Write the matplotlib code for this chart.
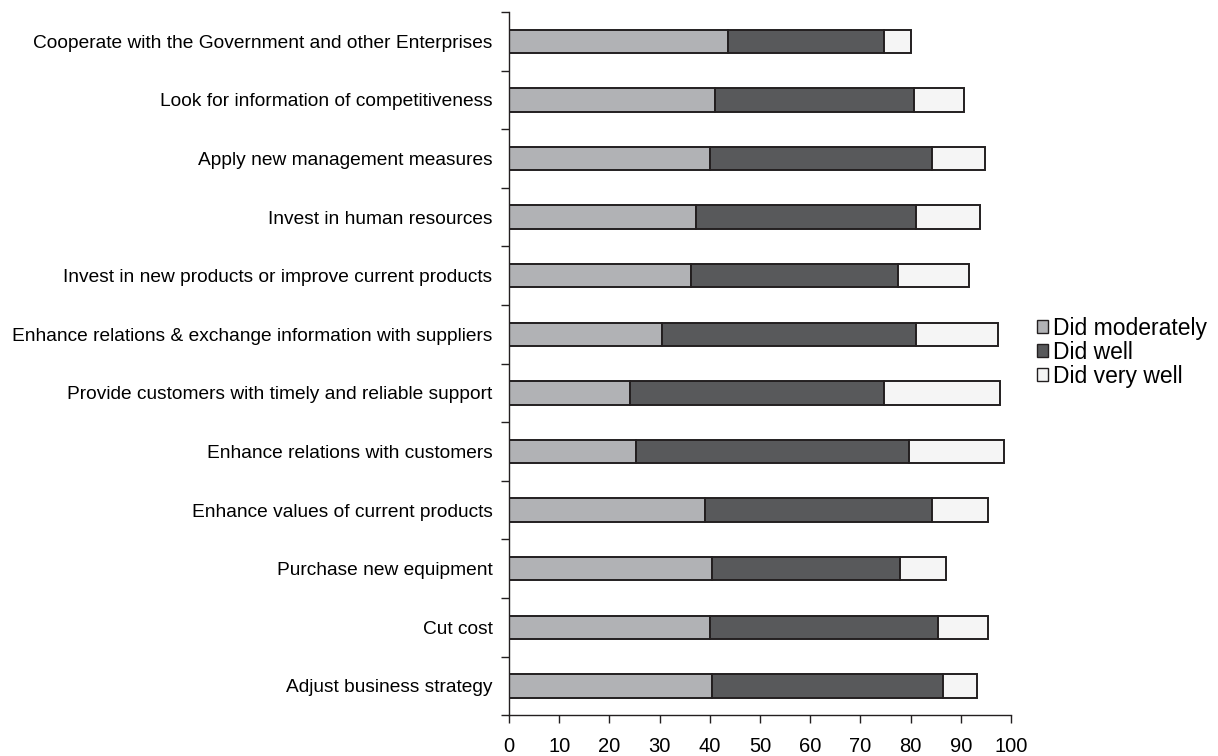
import matplotlib
matplotlib.use("Agg")
import matplotlib.pyplot as plt
import numpy as np
from matplotlib.patches import Patch

plt.rcParams['font.family'] = ['Liberation Sans', 'DejaVu Sans']

# Strategies, listed bottom to top
strategies = [
    "Adjust business strategy",
    "Cut cost",
    "Purchase new equipment",
    "Enhance values of current products",
    "Enhance relations with customers",
    "Provide customers with timely and reliable support",
    "Enhance relations & exchange information with suppliers",
    "Invest in new products or improve current products",
    "Invest in human resources",
    "Apply new management measures",
    "Look for information of competitiveness",
    "Cooperate with the Government and other Enterprises",
]

# Percent of firms per answer
did_moderately = [40.5, 40.0, 40.5, 39.0, 25.3, 24.1, 30.5, 36.3, 37.3, 40.0, 41.0, 43.6]
did_well       = [46.0, 45.5, 37.4, 45.3, 54.3, 50.7, 50.6, 41.1, 43.8, 44.3, 39.6, 31.1]
did_very_well  = [6.8, 10.0, 9.1, 11.2, 19.1, 23.1, 16.4, 14.2, 12.7, 10.5, 10.0, 5.4]

series_names = ["Did moderately", "Did well", "Did very well"]
colors = ["#b1b2b5", "#58595b", "#f5f5f5"]
edge = "#231f20"

fig = plt.figure(figsize=(12.18, 7.56), dpi=100)
ax = fig.add_axes([0.418, 0.054, 0.412, 0.930])

y = np.arange(len(strategies))
left = np.zeros(len(strategies))
for vals, col in zip([did_moderately, did_well, did_very_well], colors):
    ax.barh(y, vals, left=left, height=0.4, color=col, edgecolor=edge, linewidth=1.4)
    left += np.array(vals)

ax.set_xlim(0, 100)
ax.set_ylim(-0.5, len(strategies) - 0.5)
ax.set_xticks(np.arange(0, 101, 10))
ax.set_yticks(y)
ax.set_yticklabels(strategies, fontsize=13.8)
ax.set_yticks(np.arange(-0.5, len(strategies)), minor=True)
ax.tick_params(axis='y', which='major', length=0, pad=12)
ax.tick_params(axis='y', which='minor', length=6, width=1, color="#231f20")
ax.tick_params(axis='x', length=6, width=1, labelsize=14.5, pad=10, color="#231f20")

for side in ['top', 'right']:
    ax.spines[side].set_visible(False)
for side in ['left', 'bottom']:
    ax.spines[side].set_color("#231f20")
    ax.spines[side].set_linewidth(1)

handles = [Patch(facecolor=c, edgecolor=edge, linewidth=1) for c in colors]
fig.legend(handles, series_names, loc='center left', bbox_to_anchor=(0.851, 0.534),
           frameon=False, fontsize=16.5, handlelength=0.5, handleheight=0.5,
           handletextpad=0.2, labelspacing=0.05, borderaxespad=0, borderpad=0)

fig.savefig("out.png", dpi=100, facecolor='white')
